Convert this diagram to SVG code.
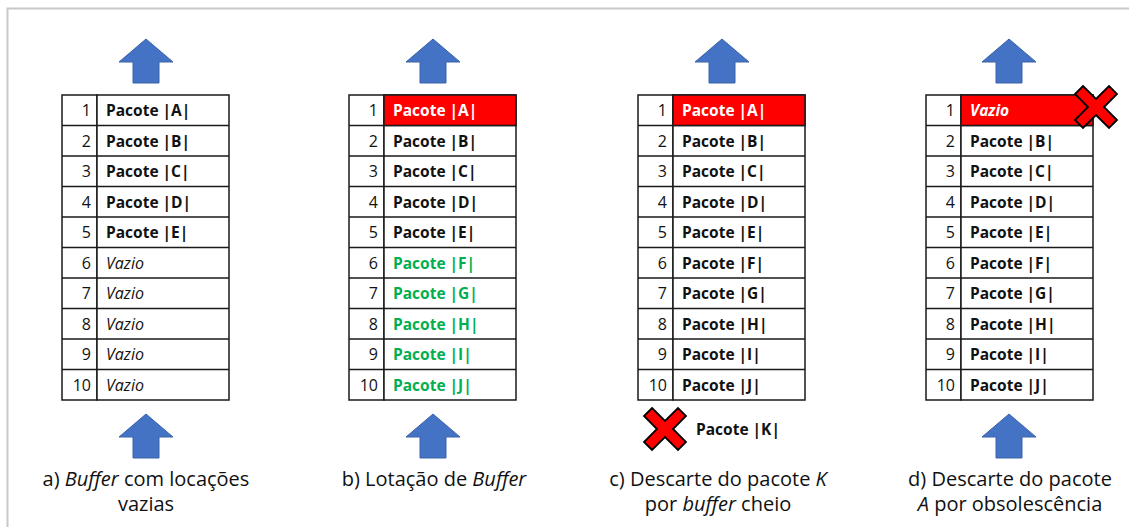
<svg xmlns="http://www.w3.org/2000/svg" xmlns:xlink="http://www.w3.org/1999/xlink" width="1129" height="527" viewBox="0 0 1129 527">
<style>
.cell{fill:#fff;stroke:#1a1a1a;stroke-width:1.5}
.red{fill:#ff0000;stroke:#1a1a1a;stroke-width:1.5}
.num{font-family:"Open Sans","Liberation Sans",sans-serif;font-size:16px;fill:#111;text-anchor:end}
.pk{font-family:"Open Sans","Liberation Sans",sans-serif;font-size:15.5px;font-weight:bold;fill:#111}
.w{fill:#fff}
.g{fill:#00b050}
.vz{font-family:"Open Sans","Liberation Sans",sans-serif;font-size:16px;font-style:italic;fill:#111}
.cap{font-family:"Open Sans","Liberation Sans",sans-serif;font-size:20px;fill:#111;text-anchor:middle}
.it{font-style:italic}
.arrow{fill:#4472c4;stroke:#3a62a8;stroke-width:1}
.x{fill:#ff0000;stroke:#000;stroke-width:1.8;stroke-linejoin:miter}
</style>
<defs>
<polygon id="arr" points="0,0 27,23 13,23 13,44 -13,44 -13,23 -27,23"/>
<polygon id="xm" points="-13,-21 0,-8 13,-21 21,-13 8,0 21,13 13,21 0,8 -13,21 -21,13 -8,0 -21,-13"/>
<g id="grid">
<rect class="cell" x="0" y="0" width="35" height="305"/>
<rect class="cell" x="35" y="0" width="132" height="305"/>
<path d="M0 30.5H167M0 61H167M0 91.5H167M0 122H167M0 152.5H167M0 183H167M0 213.5H167M0 244H167M0 274.5H167" stroke="#1a1a1a" stroke-width="1.5" fill="none"/>
</g>
<g id="nums">
<text class="num" x="29" y="21">1</text>
<text class="num" x="29" y="51.5">2</text>
<text class="num" x="29" y="82">3</text>
<text class="num" x="29" y="112.5">4</text>
<text class="num" x="29" y="143">5</text>
<text class="num" x="29" y="173.5">6</text>
<text class="num" x="29" y="204">7</text>
<text class="num" x="29" y="234.5">8</text>
<text class="num" x="29" y="265">9</text>
<text class="num" x="29" y="295.5">10</text>
</g>
</defs>
<rect x="7.5" y="8.5" width="1140" height="540" fill="none" stroke="#c8c8c8" stroke-width="2"/>

<g id="buffer-a" transform="translate(62,95)">
<use xlink:href="#grid"/>
<use xlink:href="#nums"/>
<text class="pk" x="44" y="21">Pacote |A|</text>
<text class="pk" x="44" y="51.5">Pacote |B|</text>
<text class="pk" x="44" y="82">Pacote |C|</text>
<text class="pk" x="44" y="112.5">Pacote |D|</text>
<text class="pk" x="44" y="143">Pacote |E|</text>
<text class="vz" x="44" y="173.5">Vazio</text>
<text class="vz" x="44" y="204">Vazio</text>
<text class="vz" x="44" y="234.5">Vazio</text>
<text class="vz" x="44" y="265">Vazio</text>
<text class="vz" x="44" y="295.5">Vazio</text>
</g>

<g id="buffer-b" transform="translate(349,95)">
<use xlink:href="#grid"/>
<rect class="red" x="35" y="0" width="132" height="30.5"/>
<use xlink:href="#nums"/>
<text class="pk w" x="44" y="21">Pacote |A|</text>
<text class="pk" x="44" y="51.5">Pacote |B|</text>
<text class="pk" x="44" y="82">Pacote |C|</text>
<text class="pk" x="44" y="112.5">Pacote |D|</text>
<text class="pk" x="44" y="143">Pacote |E|</text>
<text class="pk g" x="44" y="173.5">Pacote |F|</text>
<text class="pk g" x="44" y="204">Pacote |G|</text>
<text class="pk g" x="44" y="234.5">Pacote |H|</text>
<text class="pk g" x="44" y="265">Pacote |I|</text>
<text class="pk g" x="44" y="295.5">Pacote |J|</text>
</g>

<g id="buffer-c" transform="translate(638,95)">
<use xlink:href="#grid"/>
<rect class="red" x="35" y="0" width="132" height="30.5"/>
<use xlink:href="#nums"/>
<text class="pk w" x="44" y="21">Pacote |A|</text>
<text class="pk" x="44" y="51.5">Pacote |B|</text>
<text class="pk" x="44" y="82">Pacote |C|</text>
<text class="pk" x="44" y="112.5">Pacote |D|</text>
<text class="pk" x="44" y="143">Pacote |E|</text>
<text class="pk" x="44" y="173.5">Pacote |F|</text>
<text class="pk" x="44" y="204">Pacote |G|</text>
<text class="pk" x="44" y="234.5">Pacote |H|</text>
<text class="pk" x="44" y="265">Pacote |I|</text>
<text class="pk" x="44" y="295.5">Pacote |J|</text>
</g>

<g id="buffer-d" transform="translate(926,95)">
<use xlink:href="#grid"/>
<rect class="red" x="35" y="0" width="132" height="30.5"/>
<use xlink:href="#nums"/>
<text class="pk w it" x="44" y="21">Vazio</text>
<text class="pk" x="44" y="51.5">Pacote |B|</text>
<text class="pk" x="44" y="82">Pacote |C|</text>
<text class="pk" x="44" y="112.5">Pacote |D|</text>
<text class="pk" x="44" y="143">Pacote |E|</text>
<text class="pk" x="44" y="173.5">Pacote |F|</text>
<text class="pk" x="44" y="204">Pacote |G|</text>
<text class="pk" x="44" y="234.5">Pacote |H|</text>
<text class="pk" x="44" y="265">Pacote |I|</text>
<text class="pk" x="44" y="295.5">Pacote |J|</text>
</g>

<g id="connectors">
<use xlink:href="#arr" class="arrow" transform="translate(146,39)"/>
<use xlink:href="#arr" class="arrow" transform="translate(433,39)"/>
<use xlink:href="#arr" class="arrow" transform="translate(722,39)"/>
<use xlink:href="#arr" class="arrow" transform="translate(1009,39)"/>
<use xlink:href="#arr" class="arrow" transform="translate(146,414)"/>
<use xlink:href="#arr" class="arrow" transform="translate(433,414)"/>
<use xlink:href="#arr" class="arrow" transform="translate(1009,414)"/>
</g>

<g id="discard-k">
<use xlink:href="#xm" class="x" transform="translate(665,429)"/>
<text class="pk" x="696" y="435">Pacote |K|</text>
</g>
<g id="discard-a">
<use xlink:href="#xm" class="x" transform="translate(1096,107)"/>
</g>

<g id="captions">
<text class="cap" x="146" y="486">a) <tspan class="it">Buffer</tspan> com locações</text>
<text class="cap" x="146" y="511">vazias</text>
<text class="cap" x="434" y="486">b) Lotação de <tspan class="it">Buffer</tspan></text>
<text class="cap" x="718" y="486">c) Descarte do pacote <tspan class="it">K</tspan></text>
<text class="cap" x="718" y="511">por <tspan class="it">buffer</tspan> cheio</text>
<text class="cap" x="1010" y="486">d) Descarte do pacote</text>
<text class="cap" x="1010" y="511"><tspan class="it">A</tspan> por obsolescência</text>
</g>
</svg>
